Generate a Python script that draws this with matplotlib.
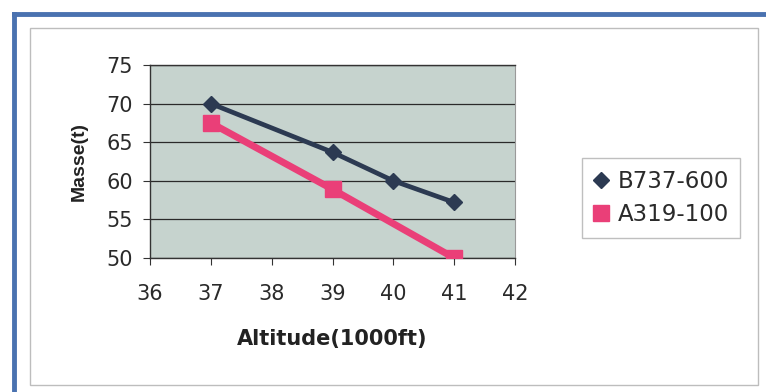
import matplotlib
matplotlib.use("Agg")
import matplotlib.pyplot as plt
from matplotlib.lines import Line2D
from matplotlib.patches import Rectangle

plt.rcParams['font.family'] = ['DejaVu Sans']

# Data
altitude_b737 = [37, 39, 40, 41]
mass_b737 = [70.0, 63.7, 60.0, 57.2]
altitude_a319 = [37, 39, 41]
mass_a319 = [67.5, 58.9, 50.0]
series_names = ["B737-600", "A319-100"]
x_ticks = [36, 37, 38, 39, 40, 41, 42]
y_ticks = [50, 55, 60, 65, 70, 75]

W, H = 766, 392
fig = plt.figure(figsize=(W / 100, H / 100), dpi=100)
fig.patch.set_facecolor("white")

# Outer blue frame (left and top)
fig.add_artist(Line2D([14 / W, 14 / W], [0, 1 - 14 / H], transform=fig.transFigure,
                      color="#4a72b0", lw=3.5))
fig.add_artist(Line2D([14 / W, 1], [1 - 14 / H, 1 - 14 / H], transform=fig.transFigure,
                      color="#4a72b0", lw=3.5))
# Inner chart box
fig.add_artist(Rectangle((30 / W, 1 - 385 / H), (758 - 30) / W, (385 - 28) / H,
                         transform=fig.transFigure, fill=False, edgecolor="#bdbdbd", lw=1.0))

ax = fig.add_axes([150 / W, 1 - 258 / H, (515 - 150) / W, (258 - 65) / H])
ax.set_facecolor("#c6d3ce")

ax.plot(altitude_b737, mass_b737, color="#2c3a52", lw=3.4, marker="D", markersize=8,
        label=series_names[0], zorder=4)
ax.plot(altitude_a319, mass_a319, color="#ea3f78", lw=5, marker="s", markersize=11,
        label=series_names[1], zorder=3)

ax.set_xlim(36, 42)
ax.set_ylim(50, 75)
ax.set_xticks(x_ticks)
ax.set_yticks(y_ticks)
ax.grid(axis="y", color="#2a2a2a", lw=0.9)
ax.set_axisbelow(True)
for s in ["left", "bottom", "top"]:
    ax.spines[s].set_color("#333333")
    ax.spines[s].set_linewidth(1.0)
ax.spines["right"].set_color("#9a9a9a")
ax.tick_params(axis="x", direction="out", length=5, pad=14, labelsize=15, colors="#333333",
               labelcolor="#2a2a2a")
ax.tick_params(axis="y", direction="out", length=5, pad=7.5, labelsize=15, colors="#333333",
               labelcolor="#2a2a2a")
ax.set_xlabel("Altitude(1000ft)", fontsize=15, fontweight="bold", color="#222222", labelpad=18)
ax.set_ylabel("Masse(t)", fontsize=14, fontweight="bold", color="#222222", labelpad=13,
              family="Liberation Sans")

leg = fig.legend(loc="center", bbox_to_anchor=(661 / W, 1 - 198 / H), fontsize=16.5,
                 frameon=True, fancybox=False, handlelength=0.7, handletextpad=0.35,
                 borderpad=0.5, labelspacing=0.45, edgecolor="#b0b0b0",
                 labelcolor="#2a2a2a")
for h in leg.legend_handles:
    h.set_linestyle("none")
leg.get_frame().set_linewidth(1.0)

fig.savefig("out.png", dpi=100)
